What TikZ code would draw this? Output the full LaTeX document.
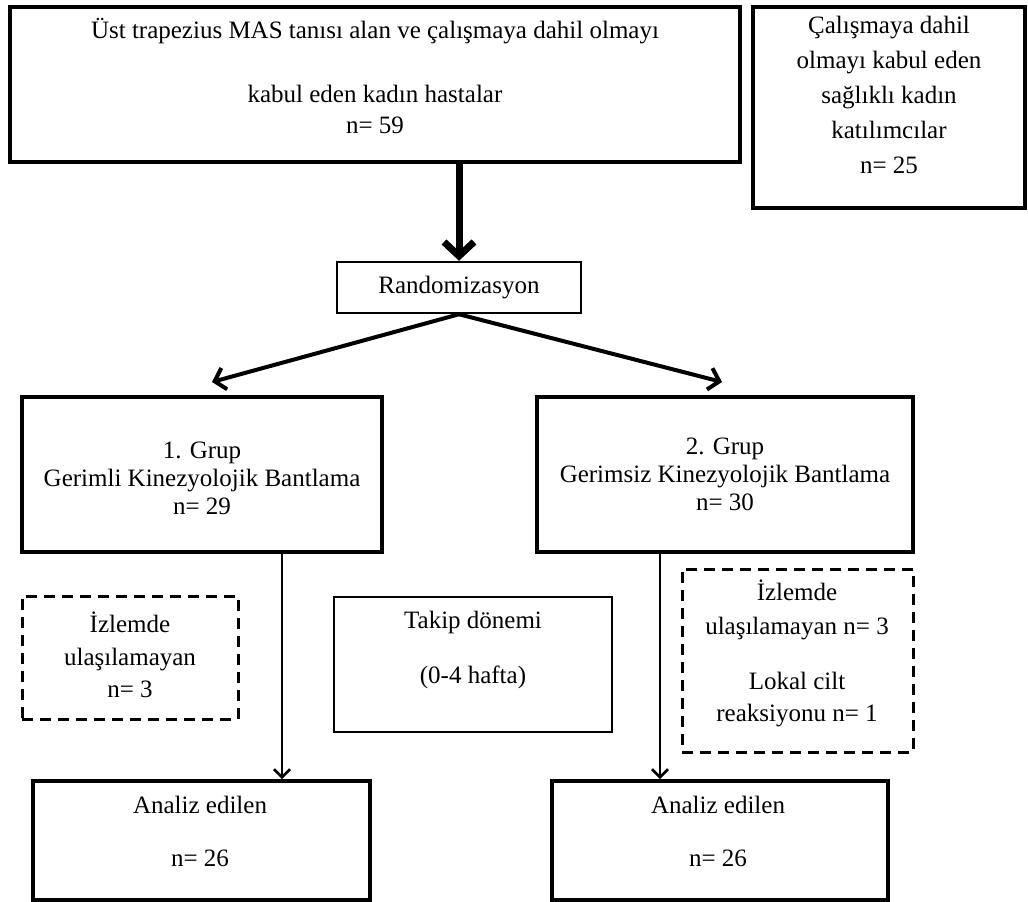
\documentclass[tikz,border=0pt]{standalone}
\usepackage{fontspec}
\setmainfont{Liberation Serif}
\usetikzlibrary{arrows.meta}
\tikzset{
  box/.style={draw, line width=4pt, inner sep=0pt},
  thinbox/.style={draw, line width=2.5pt, inner sep=0pt},
  dashbox/.style={draw, line width=3pt, dash pattern=on 11pt off 7pt, inner sep=0pt},
  txt/.style={align=center, font=\fontsize{25}{30}\selectfont, inner sep=0pt},
  bigarrow/.style={line width=7pt, -{Straight Barb[length=14pt,width=30pt]}},
  midarrow/.style={line width=4pt, -{Straight Barb[length=10pt,width=22pt]}},
  thinarrow/.style={line width=2.5pt, -{Straight Barb[length=8pt,width=16pt]}}
}
\begin{document}
\begin{tikzpicture}[x=1pt,y=-1pt]
  \useasboundingbox (0,0) rectangle (1028,902);
  % top row
  \node[box, minimum width=730pt, minimum height=155pt] (hasta) at (375,84.5) {};
  \node[txt] (hastaT) at (375,75.5) {Üst trapezius MAS tanısı alan ve çalışmaya dahil olmayı\\[34pt]kabul eden kadın hastalar\\[1pt]n= 59};
  \node[box, minimum width=272pt, minimum height=201pt] (saglikli) at (889,107.5) {};
  \node[txt] (saglikliT) at (889,95) {Çalışmaya dahil\\[5pt]olmayı kabul eden\\[5pt]sağlıklı kadın\\[5pt]katılımcılar\\[5pt]n= 25};
  % randomisation
  \node[thinbox, minimum width=244pt, minimum height=51pt, txt] (random) at (459,287.5) {Randomizasyon};
  \coordinate (g1end) at (212,382);
  \coordinate (g2end) at (722,382);
  % groups
  \node[box, minimum width=360pt, minimum height=155pt] (grup1) at (202,474.5) {};
  \node[txt] (grup1T) at (202,478.5) {1. Grup\\[-2pt]Gerimli Kinezyolojik Bantlama\\[-2pt]n= 29};
  \node[box, minimum width=376pt, minimum height=155pt] (grup2) at (725,474.5) {};
  \node[txt] (grup2T) at (725,474) {2. Grup\\[-2pt]Gerimsiz Kinezyolojik Bantlama\\[-2pt]n= 30};
  % follow-up
  \node[dashbox, minimum width=216pt, minimum height=123pt] (izlem1) at (130,657.5) {};
  \node[txt] (izlem1T) at (130,655) {İzlemde\\[3pt]ulaşılamayan\\[2pt]n= 3};
  \node[thinbox, minimum width=278pt, minimum height=135pt] (takip) at (473,664.5) {};
  \node[txt] (takipT) at (473,650) {Takip dönemi\\[25pt](0-4 hafta)};
  \node[dashbox, minimum width=231pt, minimum height=183pt] (izlem2) at (797.5,660.5) {};
  \node[txt] (izlem2T) at (797,653) {İzlemde\\[4pt]ulaşılamayan n= 3\\[25pt]Lokal cilt\\[2pt]reaksiyonu n= 1};
  % analysed
  \node[box, minimum width=337pt, minimum height=119pt] (analiz1) at (201.5,840.5) {};
  \node[txt] (analiz1T) at (200,831) {Analiz edilen\\[23pt]n= 26};
  \node[box, minimum width=336pt, minimum height=119pt] (analiz2) at (720,840.5) {};
  \node[txt] (analiz2T) at (718,831) {Analiz edilen\\[23pt]n= 26};
  % arrows
  \draw[bigarrow] (random.north |- hasta.south) -- (random.north);
  \draw[midarrow] (random.south) -- (g1end);
  \draw[midarrow] (random.south) -- (g2end);
  \draw[thinarrow] ([xshift=80pt]grup1.south) -- ([xshift=80pt]grup1.south |- analiz1.north);
  \draw[thinarrow] ([xshift=-65pt]grup2.south) -- ([xshift=-65pt]grup2.south |- analiz2.north);
\end{tikzpicture}
\end{document}
